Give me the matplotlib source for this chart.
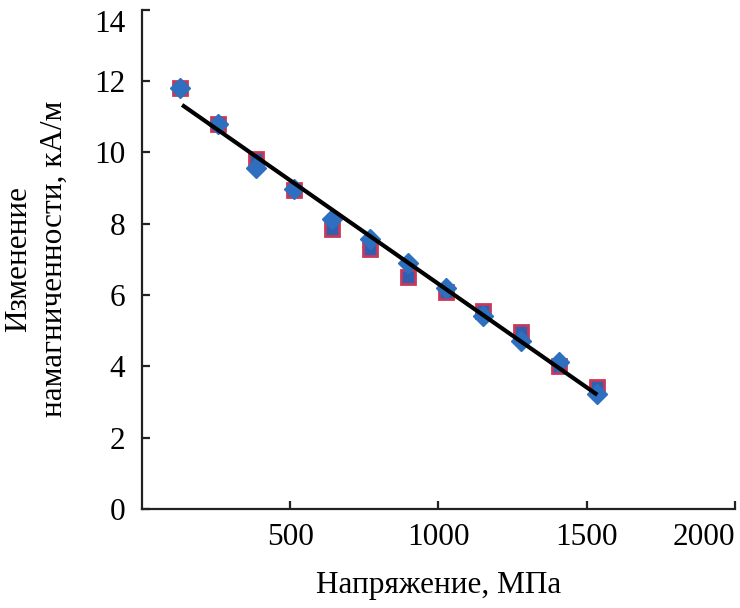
import matplotlib.pyplot as plt

# ---- data ----
stress = [128, 256, 384, 512, 640, 768, 896, 1024, 1152, 1280, 1408, 1536]
magn_sq = [11.8, 10.8, 9.8, 8.95, 7.84, 7.28, 6.5, 6.08, 5.55, 4.95, 4.0, 3.42]
magn_dia = [11.8, 10.8, 9.55, 8.97, 8.14, 7.58, 6.9, 6.2, 5.4, 4.72, 4.12, 3.22]
trend_x = [135, 1536]
trend_y = [11.33, 3.2]

x_ticks = [500, 1000, 1500, 2000]
y_ticks = [0, 2, 4, 6, 8, 10, 12, 14]

plt.rcParams['font.family'] = ['Liberation Serif', 'DejaVu Serif']
plt.rcParams['font.size'] = 22.5

fig = plt.figure(figsize=(7.4, 6.08), dpi=100)
ax = fig.add_axes([0.192, 0.163, 0.801, 0.821])

ax.plot(stress, magn_sq, linestyle='none', marker='s', markersize=10,
        markerfacecolor='#2f5fae', markeredgecolor='#c8385a', markeredgewidth=2)
ax.plot(stress, magn_dia, linestyle='none', marker='D', markersize=10.5,
        markerfacecolor='#2f6fc0', markeredgecolor='#2f6fc0')
ax.plot(trend_x, trend_y, color='black', linewidth=3, solid_capstyle='butt')

ax.set_xlim(0, 2000)
ax.set_ylim(0, 14)
ax.set_xticks(x_ticks)
ax.set_yticks(y_ticks)

for s in ['top', 'right']:
    ax.spines[s].set_visible(False)
for s in ['left', 'bottom']:
    ax.spines[s].set_linewidth(1.6)
    ax.spines[s].set_color('#222222')

ax.tick_params(axis='both', direction='in', length=6, width=1.6, color='#222222')
ax.tick_params(axis='y', pad=12)
ax.tick_params(axis='x', pad=10)

# edge labels pushed inside the figure like in the picture
ax.get_xticklabels()[-1].set_horizontalalignment('right')
ax.get_yticklabels()[-1].set_verticalalignment('top')

ax.set_xlabel('Напряжение, МПа', labelpad=14)
ax.set_ylabel('Изменение\nнамагниченности, кА/м', labelpad=18, linespacing=1.3)

fig.savefig('out.png', dpi=100)
